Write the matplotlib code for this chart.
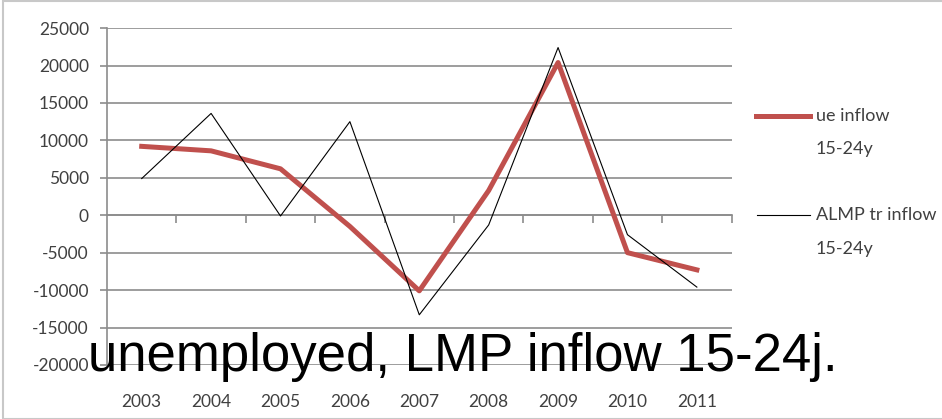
import matplotlib
matplotlib.use("Agg")
from matplotlib import pyplot as plt
from matplotlib.lines import Line2D
from matplotlib.patches import Rectangle

years = ["2003", "2004", "2005", "2006", "2007", "2008", "2009", "2010", "2011"]
ue_inflow = [9200, 8600, 6200, -1500, -10100, 3300, 20400, -5000, -7300]
almp_inflow = [4900, 13600, -100, 12500, -13300, -1300, 22400, -2600, -9600]
yticks = [-20000, -15000, -10000, -5000, 0, 5000, 10000, 15000, 20000, 25000]

grid_c = "#8c8c8c"
text_c = "#404040"

fig = plt.figure(figsize=(9.42, 4.19), dpi=100)
ax = fig.add_axes([0.1136, 0.129, 0.663, 0.804])

x = list(range(len(years)))
ax.plot(x, ue_inflow, color="#C0504D", lw=3.6, zorder=3, solid_joinstyle="round")
ax.plot(x, almp_inflow, color="black", lw=0.8, zorder=4)

ax.set_xlim(-0.5, len(years) - 0.5)
ax.set_ylim(-20000, 25000)
ax.set_yticks(yticks)
ax.set_yticklabels([str(v) for v in yticks])
ax.yaxis.grid(True, color=grid_c, lw=1.2)
ax.set_axisbelow(True)

ax.set_xticks(x)
ax.set_xticklabels(years)
ax.tick_params(axis="x", length=0, pad=21, labelsize=12.5, labelcolor=text_c)
ax.tick_params(axis="y", length=5, width=1.2, color=grid_c, pad=8, labelsize=12.5, labelcolor=text_c)
for lab in ax.get_xticklabels() + ax.get_yticklabels():
    lab.set_family(["Lato", "DejaVu Sans"])

for s in ["top", "right", "bottom"]:
    ax.spines[s].set_visible(False)
ax.spines["left"].set_color(grid_c)
ax.spines["left"].set_linewidth(1.2)

# horizontal axis drawn through zero, with tick marks between categories
sec = ax.secondary_xaxis(20000 / 45000)
sec.xaxis.set_ticks_position("bottom")
sec.set_xticks([i + 0.5 for i in range(len(years))])
sec.set_xticklabels([])
sec.tick_params(axis="x", direction="out", length=6, width=1.2, color=grid_c)
sec.spines["bottom"].set_color(grid_c)
sec.spines["bottom"].set_linewidth(1.2)
sec.spines["top"].set_visible(False)

# legend
fig.add_artist(Line2D([756 / 942, 810 / 942], [1 - 116 / 419, 1 - 116 / 419], color="#C0504D", lw=3.6))
fig.text(816 / 942, 1 - 116 / 419, "ue inflow", fontsize=13, color=text_c, va="center", family=["Lato", "DejaVu Sans"])
fig.text(816 / 942, 1 - 149 / 419, "15-24y", fontsize=13, color=text_c, va="center", family=["Lato", "DejaVu Sans"])
fig.add_artist(Line2D([757 / 942, 810 / 942], [1 - 215 / 419, 1 - 215 / 419], color="black", lw=0.8))
fig.text(816 / 942, 1 - 215 / 419, "ALMP tr inflow", fontsize=13, color=text_c, va="center", family=["Lato", "DejaVu Sans"])
fig.text(816 / 942, 1 - 249 / 419, "15-24y", fontsize=13, color=text_c, va="center", family=["Lato", "DejaVu Sans"])

# overlay caption
fig.text(463 / 942, 1 - 357 / 419, "unemployed, LMP inflow 15-24j.", fontsize=38, color="black",
         ha="center", va="center", family=["Liberation Sans", "DejaVu Sans"], zorder=10)

fig.add_artist(Rectangle((3 / 942, 0), 1, 1 - 1 / 419, fill=False, ec="#c8c8c8", lw=1.5, transform=fig.transFigure))

fig.savefig("out.png", dpi=100)
